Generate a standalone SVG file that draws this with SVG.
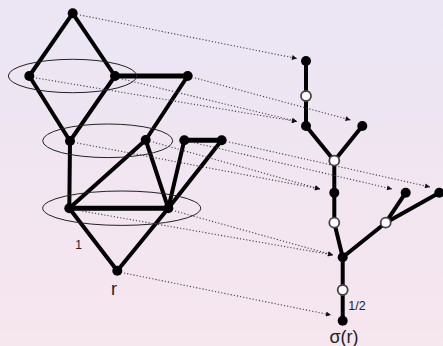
<svg xmlns="http://www.w3.org/2000/svg" width="443" height="346" viewBox="0 0 443 346">
<defs>
<linearGradient id="bg" x1="0" y1="0" x2="0" y2="1">
<stop offset="0" stop-color="#ebe5f4"/>
<stop offset="1" stop-color="#f6e6ee"/>
</linearGradient>
<marker id="ah" viewBox="0 0 10 10" refX="10" refY="5" markerWidth="7" markerHeight="5" markerUnits="userSpaceOnUse" orient="auto">
<path d="M0,0 L10,5 L0,10 z" fill="#111"/>
</marker>
</defs>
<style>
.e{stroke:#000;stroke-width:4;stroke-linecap:round;fill:none}
.t{stroke:#000;stroke-width:5;stroke-linecap:round;fill:none}
.ell{stroke:#222;stroke-width:1;fill:none}
.d{stroke:#444;stroke-width:1.1;stroke-dasharray:1.2 2;fill:none}
.n{fill:#000}
.h{fill:#fff;stroke:#444;stroke-width:1.8}
.lab{font-family:"Liberation Sans",Arial,sans-serif;fill:#222}
</style>
<rect x="0" y="0" width="443" height="346" fill="url(#bg)"/>
<g id="connectors">
<line class="e" x1="72.7" y1="13.3" x2="29.3" y2="76"/>
<line class="e" x1="72.7" y1="13.3" x2="115" y2="76"/>
<line class="e" x1="29.3" y1="76" x2="70" y2="141"/>
<line class="e" x1="115" y1="76" x2="70" y2="141"/>
<line class="t" x1="115" y1="76" x2="187.7" y2="76"/>
<line class="e" x1="187.7" y1="76" x2="145.7" y2="140"/>
<line class="e" x1="145.7" y1="140" x2="69.3" y2="208.3"/>
<line class="e" x1="145.7" y1="140" x2="168.3" y2="208.3"/>
<line class="e" x1="70" y1="141" x2="69.3" y2="208.3"/>
<line class="t" x1="69.3" y1="208.3" x2="168.3" y2="208.3"/>
<line class="t" x1="184.3" y1="140.3" x2="221.7" y2="140.3"/>
<line class="e" x1="184.3" y1="140.3" x2="168.3" y2="208.3"/>
<line class="e" x1="221.7" y1="140.3" x2="168.3" y2="208.3"/>
<line class="e" x1="69.3" y1="208.3" x2="117.3" y2="270.7"/>
<line class="e" x1="168.3" y1="208.3" x2="117.3" y2="270.7"/>
<ellipse class="ell" cx="72.5" cy="76" rx="64.2" ry="16.7"/>
<ellipse class="ell" cx="107.7" cy="140.8" rx="65" ry="16.8"/>
<ellipse class="ell" cx="121.7" cy="208.2" rx="79" ry="17.2"/>
<line class="e" x1="306" y1="61" x2="306" y2="126"/>
<line class="e" x1="306" y1="126" x2="334.3" y2="160.7"/>
<line class="e" x1="362.3" y1="126" x2="334.3" y2="160.7"/>
<line class="e" x1="334.3" y1="160.7" x2="334.3" y2="222.7"/>
<line class="e" x1="334.3" y1="222.7" x2="342.7" y2="257.3"/>
<line class="e" x1="342.7" y1="257.3" x2="385.7" y2="222.7"/>
<line class="e" x1="385.7" y1="222.7" x2="405.7" y2="192.7"/>
<line class="e" x1="385.7" y1="222.7" x2="439.3" y2="192.7"/>
<line class="e" x1="342.7" y1="257.3" x2="342.7" y2="320.7"/>
<line class="d" x1="80" y1="15" x2="297" y2="58.5" marker-end="url(#ah)"/>
<line class="d" x1="36" y1="78" x2="297" y2="121.5" marker-end="url(#ah)"/>
<line class="d" x1="122" y1="79" x2="297" y2="121.5" marker-end="url(#ah)"/>
<line class="d" x1="195" y1="78" x2="350.5" y2="120" marker-end="url(#ah)"/>
<line class="d" x1="77" y1="143" x2="320" y2="189" marker-end="url(#ah)"/>
<line class="d" x1="153" y1="142" x2="320" y2="189" marker-end="url(#ah)"/>
<line class="d" x1="191" y1="142" x2="392" y2="189" marker-end="url(#ah)"/>
<line class="d" x1="229" y1="142" x2="430" y2="187" marker-end="url(#ah)"/>
<line class="d" x1="76" y1="210" x2="333" y2="255" marker-end="url(#ah)"/>
<line class="d" x1="175" y1="211" x2="333" y2="255" marker-end="url(#ah)"/>
<line class="d" x1="124" y1="273" x2="331" y2="315" marker-end="url(#ah)"/>
</g>
<g id="nA"><circle class="n" cx="72.7" cy="13.3" r="5"/></g>
<g id="nB"><circle class="n" cx="29.3" cy="76" r="5"/></g>
<g id="nC"><circle class="n" cx="115" cy="76" r="5"/></g>
<g id="nD"><circle class="n" cx="187.7" cy="76" r="5"/></g>
<g id="nE"><circle class="n" cx="70" cy="141" r="5"/></g>
<g id="nF"><circle class="n" cx="145.7" cy="140" r="5"/></g>
<g id="nG"><circle class="n" cx="184.3" cy="140.3" r="5"/></g>
<g id="nH"><circle class="n" cx="221.7" cy="140.3" r="5"/></g>
<g id="nI"><circle class="n" cx="69.3" cy="208.3" r="5"/></g>
<g id="nJ"><circle class="n" cx="168.3" cy="208.3" r="5"/></g>
<g id="nr"><circle class="n" cx="117.3" cy="270.7" r="5"/><text class="lab" x="114" y="295" font-size="18" text-anchor="middle">r</text></g>
<g id="label1"><text class="lab" x="78.5" y="249" font-size="12" text-anchor="middle">1</text></g>
<g id="t1"><circle class="n" cx="306" cy="61" r="5"/></g>
<g id="t2"><circle class="h" cx="306" cy="96" r="5"/></g>
<g id="t3"><circle class="n" cx="306" cy="126" r="5"/></g>
<g id="t4"><circle class="n" cx="362.3" cy="126" r="5"/></g>
<g id="t5"><circle class="h" cx="334.3" cy="160.7" r="5"/></g>
<g id="t6"><circle class="n" cx="334.3" cy="192.7" r="5"/></g>
<g id="t7"><circle class="h" cx="334.3" cy="222.7" r="5"/></g>
<g id="t8"><circle class="n" cx="342.7" cy="257.3" r="5"/></g>
<g id="t9"><circle class="h" cx="385.7" cy="222.7" r="5"/></g>
<g id="t10"><circle class="n" cx="405.7" cy="192.7" r="5"/></g>
<g id="t11"><circle class="n" cx="439.3" cy="192.7" r="5"/></g>
<g id="t12"><circle class="h" cx="342.7" cy="290" r="5"/><text class="lab" x="357" y="310" font-size="12.5" text-anchor="middle">1/2</text></g>
<g id="t13"><circle class="n" cx="342.7" cy="320.7" r="5"/><text class="lab" x="344" y="343" font-size="18" text-anchor="middle">σ(r)</text></g>
</svg>
